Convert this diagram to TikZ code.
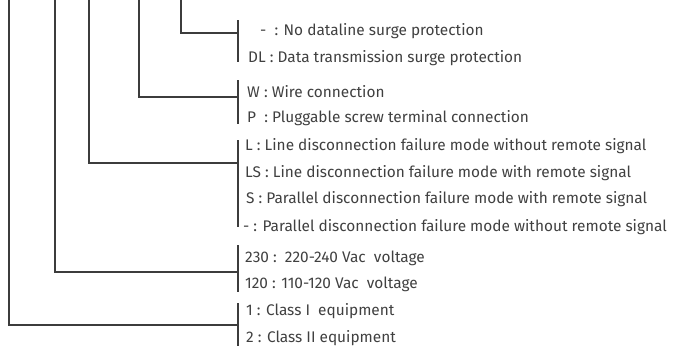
\documentclass[tikz,border=0pt]{standalone}
\usepackage{fontspec}
\setmainfont{Fira Sans}
\definecolor{linegray}{HTML}{3C3C3C}
\definecolor{textgray}{HTML}{404040}
\begin{document}
\begin{tikzpicture}[x=1pt,y=-1pt,
  wire/.style={draw=linegray,line width=1.5pt},
  opt/.style={anchor=base west,inner sep=0pt,text=textgray,font=\fontsize{15.4}{18}\selectfont}]
\useasboundingbox (0,0) rectangle (674,349);
% option texts
\node[opt] (nodl) at (260,35) {-\ \ : No dataline surge protection};
\node[opt] (dl) at (248,62) {DL : Data transmission surge protection};
\node[opt] (w) at (247,97) {W : Wire connection};
\node[opt] (p) at (247,122) {P\ \ : Pluggable screw terminal connection};
\node[opt] (l) at (245,150) {L : Line disconnection failure mode without remote signal};
\node[opt] (ls) at (245,177) {LS : Line disconnection failure mode with remote signal};
\node[opt] (s) at (246,203) {S : Parallel disconnection failure mode with remote signal};
\node[opt] (nos) at (243,231) {- : Parallel disconnection failure mode without remote signal};
\node[opt] (v230) at (245,262) {230 :\ \ 220-240 Vac\ \ voltage};
\node[opt] (v120) at (245,288) {120 : 110-120 Vac\ \ voltage};
\node[opt] (c1) at (246,315) {1 : Class I\ \ equipment};
\node[opt] (c2) at (246,342) {2 : Class II equipment};
% brackets
\coordinate (datatop) at (238,20); \coordinate (databot) at (238,62);
\coordinate (conntop) at (238,80); \coordinate (connbot) at (238,124);
\coordinate (failtop) at (238,140); \coordinate (failbot) at (238,227);
\coordinate (volttop) at (238,245); \coordinate (voltbot) at (238,292);
\coordinate (classtop) at (238,303); \coordinate (classbot) at (238,346);
\draw[wire] (datatop) -- (databot);
\draw[wire] (conntop) -- (connbot);
\draw[wire] (failtop) -- (failbot);
\draw[wire] (volttop) -- (voltbot);
\draw[wire] (classtop) -- (classbot);
% leaders
\coordinate (dataroot) at (181,0); \coordinate (datain) at (238,33);
\coordinate (connroot) at (139,0); \coordinate (connin) at (238,97);
\coordinate (failroot) at (89,0); \coordinate (failin) at (238,163);
\coordinate (voltroot) at (55,0); \coordinate (voltin) at (238,272);
\coordinate (classroot) at (9,0); \coordinate (classin) at (238,325);
\draw[wire] (dataroot) |- (datain);
\draw[wire] (connroot) |- (connin);
\draw[wire] (failroot) |- (failin);
\draw[wire] (voltroot) |- (voltin);
\draw[wire] (classroot) |- (classin);
\end{tikzpicture}
\end{document}
